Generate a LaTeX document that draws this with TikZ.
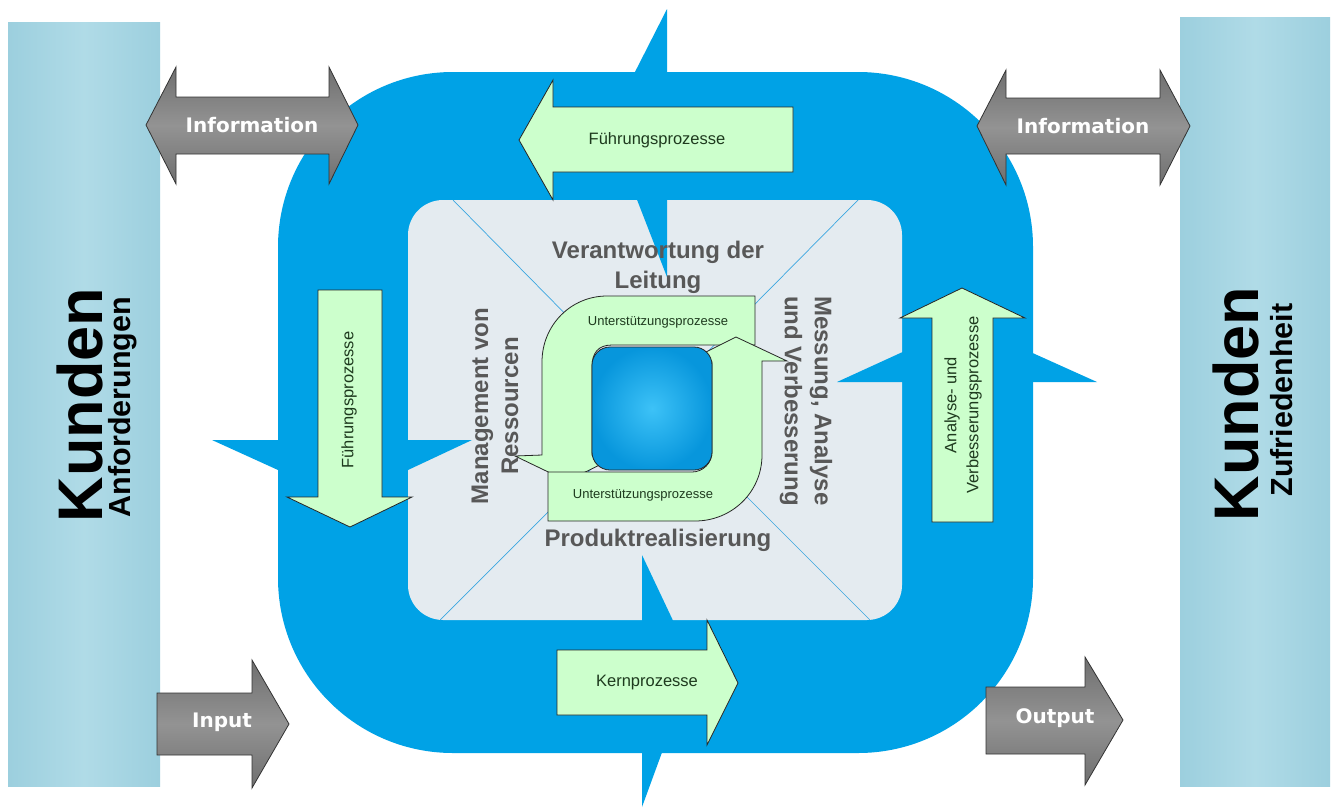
\documentclass[tikz,border=0pt]{standalone}
\usepackage{fontspec}
\setmainfont{Liberation Sans}
\newfontfamily\dvs{DejaVu Sans}
\definecolor{qblue}{HTML}{00A2E6}
\definecolor{qlight}{HTML}{E4EBF0}
\definecolor{qline}{HTML}{3AA6E0}
\definecolor{qgreen}{HTML}{CCFFCC}
\definecolor{qbarA}{HTML}{9CCFDE}
\definecolor{qbarB}{HTML}{B0DBE7}
\definecolor{qgrayA}{HTML}{6F6F6F}
\definecolor{qgrayB}{HTML}{939393}
\definecolor{qtext}{HTML}{585858}
\definecolor{qgtext}{HTML}{1E3A1E}
\definecolor{qsqA}{HTML}{3DC2F7}
\definecolor{qsqB}{HTML}{0796DC}
\tikzset{
 bar/.style={left color=qbarA, right color=qbarA, middle color=qbarB, draw=none},
 grayarrow/.style={top color=qgrayA, bottom color=qgrayA, middle color=qgrayB, draw=black!80, line width=0.8pt},
 greenarrow/.style={fill=qgreen, draw=black!85, line width=0.8pt},
 spike/.style={fill=qblue, draw=none},
 diag/.style={draw=qline, line width=0.7pt},
 graylabel/.style={font=\dvs\bfseries\fontsize{20}{24}\selectfont, text=white, inner sep=0pt},
 greenlabel/.style={font=\fontsize{16.5}{22}\selectfont, text=qgtext, align=center, inner sep=0pt},
 cyclelabel/.style={font=\fontsize{13}{15}\selectfont, text=qgtext, inner sep=0pt},
 innerlabel/.style={font=\bfseries\fontsize{24}{30}\selectfont, text=qtext, align=center, inner sep=0pt},
 kunde/.style={font=\bfseries\fontsize{63}{70}\selectfont, text=black, inner sep=0pt},
 kundesub/.style={font=\bfseries\fontsize{30.5}{34}\selectfont, text=black, inner sep=0pt},
}
\begin{document}
\begin{tikzpicture}[x=1pt,y=-1pt]
\useasboundingbox (0,0) rectangle (1335,809);
\fill[white] (0,0) rectangle (1335,809);
% customer bars
\path[bar] (8,22) rectangle (160,786);
\path[bar] (1180,17) rectangle (1330,786);
% big blue rounded square
\fill[qblue, rounded corners=175pt] (278,72) rectangle (1033,753);
% light inner square
\fill[qlight, rounded corners=35pt] (408,200) rectangle (902,620);
% pinwheel spikes
\fill[spike] (667,9) -- (608,125) -- (667,277) -- cycle;
\fill[spike] (642,807) -- (694,665) -- (642,555) -- cycle;
\fill[spike] (212,440) -- (344,500) -- (472,440) -- cycle;
\fill[spike] (1097,382) -- (966,323) -- (837,382) -- cycle;
% diagonals
\coordinate (ctr) at (655,405);
\coordinate (dtl) at (453,200);
\coordinate (dtr) at (858,200);
\coordinate (dbl) at (440,620);
\coordinate (dbr) at (870,620);
\draw[diag] (dtl) -- (ctr);
\draw[diag] (dtr) -- (ctr);
\draw[diag] (dbl) -- (ctr);
\draw[diag] (dbr) -- (ctr);
% green process arrows
\draw[greenarrow] (519,140) -- (553,80) -- (553,107) -- (793,107) -- (793,172) -- (553,172) -- (553,200) -- cycle;
\draw[greenarrow] (318,290) -- (382,290) -- (382,497) -- (412,497) -- (350,527) -- (287,497) -- (318,497) -- cycle;
\draw[greenarrow] (932,522) -- (932,318) -- (900,318) -- (962,288) -- (1025,318) -- (993,318) -- (993,522) -- cycle;
\draw[greenarrow] (557,650) -- (707,650) -- (707,620) -- (738,683) -- (707,745) -- (707,715) -- (557,715) -- cycle;
% cycle arrows
\draw[greenarrow] (755,296) -- (607,296) .. controls (571,296) and (542,325) .. (542,362) -- (542,455) -- (515,456) -- (567,481) -- (620,455) -- (592,455) -- (592,367) .. controls (592,353) and (598,345) .. (612,345) -- (755,345) -- cycle;
\draw[greenarrow] (548,472) -- (692,472) .. controls (703,472) and (712,463) .. (712,452) -- (712,362) -- (686,362) -- (736,337) -- (787,361) -- (762,361) -- (762,455) .. controls (762,492) and (732,521) .. (695,521) -- (548,521) -- cycle;
\draw[black!85, line width=0.8pt, inner color=qsqA, outer color=qsqB, rounded corners=18pt] (592,347) rectangle (712,470);
% gray arrows
\draw[grayarrow] (146,125) -- (176,67) -- (176,97) -- (329,97) -- (329,67) -- (358,125) -- (329,184) -- (329,154) -- (176,154) -- (176,184) -- cycle;
\draw[grayarrow] (977,126) -- (1006,70) -- (1006,98) -- (1160,98) -- (1160,70) -- (1190,126) -- (1160,185) -- (1160,154) -- (1006,154) -- (1006,185) -- cycle;
\draw[grayarrow] (157,693) -- (252,693) -- (252,660) -- (289,724) -- (252,788) -- (252,755) -- (157,755) -- cycle;
\draw[grayarrow] (986,687) -- (1085,687) -- (1085,657) -- (1123,720) -- (1085,785) -- (1085,754) -- (986,754) -- cycle;
% texts
\node[kunde, rotate=90] (kl) at (80,405) {Kunden};
\node[kundesub, rotate=90] (al) at (123,407) {Anforderungen};
\node[kunde, rotate=90] (kr) at (1236,404) {Kunden};
\node[kundesub, rotate=90] (zr) at (1282,400) {Zufriedenheit};
\node[graylabel] (il) at (252,125) {Information};
\node[graylabel] (ir) at (1083,126) {Information};
\node[graylabel] (in) at (222,722) {Input};
\node[graylabel] (out) at (1055,718) {Output};
\node[greenlabel] (ft) at (657,140) {Führungsprozesse};
\node[greenlabel, rotate=90] (fl) at (349,400) {Führungsprozesse};
\node[greenlabel, rotate=90] (av) at (963,405) {Analyse- und\\Verbesserungsprozesse};
\node[greenlabel] (kp) at (647,683) {Kernprozesse};
\node[cyclelabel] (u1) at (658,322) {Unterstützungsprozesse};
\node[cyclelabel] (u2) at (643,495) {Unterstützungsprozesse};
\node[innerlabel] (vl) at (658,267) {Verantwortung der\\Leitung};
\node[innerlabel] (pr) at (658,540) {Produktrealisierung};
\node[innerlabel, rotate=90] (mr) at (495,406) {Management von\\Ressourcen};
\node[innerlabel, rotate=-90] (mv) at (806,401) {Messung, Analyse\\und Verbesserung};
\end{tikzpicture}
\end{document}
